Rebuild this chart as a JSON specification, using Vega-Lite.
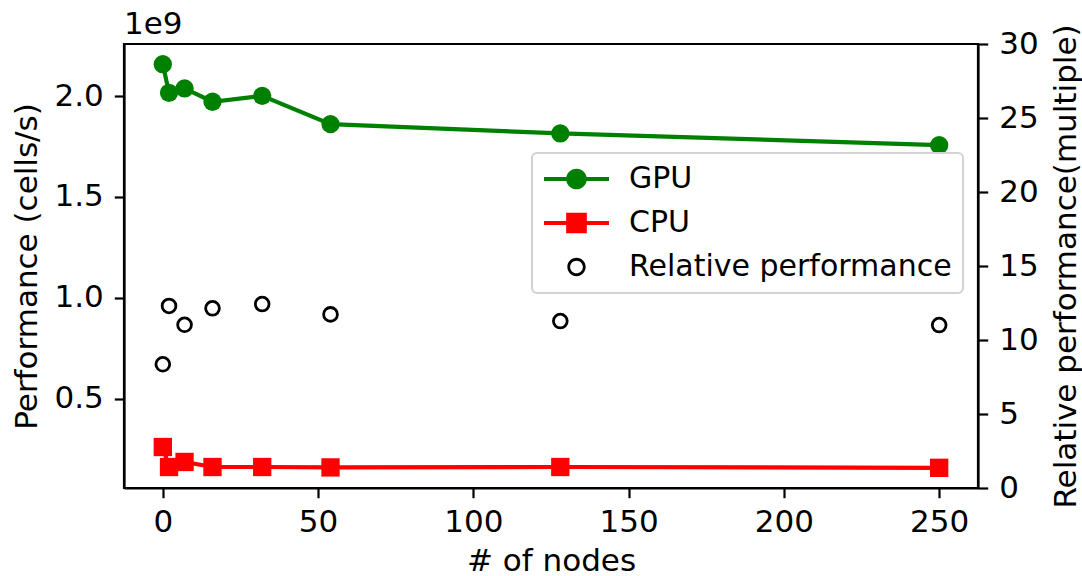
{
  "$schema": "https://vega.github.io/schema/vega-lite/v6.json",
  "width": 854,
  "height": 444,
  "autosize": "none",
  "padding": {"left": 124, "top": 44, "right": 104, "bottom": 88},
  "background": "white",
  "title": {"text": "1e9", "anchor": "start", "frame": "group", "orient": "top", "offset": -41, "baseline": "alphabetic", "font": "DejaVu Sans", "fontSize": 31, "fontWeight": "normal", "color": "black"},
  "data": {
    "values": [
      {"nodes": 0, "series": "GPU", "value": 2158000000},
      {"nodes": 2, "series": "GPU", "value": 2016000000},
      {"nodes": 7, "series": "GPU", "value": 2038000000},
      {"nodes": 16, "series": "GPU", "value": 1972000000},
      {"nodes": 32, "series": "GPU", "value": 2001000000},
      {"nodes": 54, "series": "GPU", "value": 1861000000},
      {"nodes": 128, "series": "GPU", "value": 1815000000},
      {"nodes": 250, "series": "GPU", "value": 1757000000},
      {"nodes": 0, "series": "CPU", "value": 261000000},
      {"nodes": 2, "series": "CPU", "value": 162000000},
      {"nodes": 7, "series": "CPU", "value": 187000000},
      {"nodes": 16, "series": "CPU", "value": 162000000},
      {"nodes": 32, "series": "CPU", "value": 162000000},
      {"nodes": 54, "series": "CPU", "value": 160000000},
      {"nodes": 128, "series": "CPU", "value": 162000000},
      {"nodes": 250, "series": "CPU", "value": 158000000},
      {"nodes": 0, "series": "Relative performance", "value": 8.36},
      {"nodes": 2, "series": "Relative performance", "value": 12.3},
      {"nodes": 7, "series": "Relative performance", "value": 11.03},
      {"nodes": 16, "series": "Relative performance", "value": 12.14},
      {"nodes": 32, "series": "Relative performance", "value": 12.43},
      {"nodes": 54, "series": "Relative performance", "value": 11.73},
      {"nodes": 128, "series": "Relative performance", "value": 11.28},
      {"nodes": 250, "series": "Relative performance", "value": 11.01}
    ]
  },
  "layer": [
    {
      "transform": [{"filter": "datum.series !== 'Relative performance'"}],
      "encoding": {
        "x": {"field": "nodes", "type": "quantitative", "scale": {"domain": [-12.5, 262.5], "nice": false, "zero": false},
              "axis": {"title": "# of nodes", "values": [0, 50, 100, 150, 200, 250], "titlePadding": 9}},
        "y": {"field": "value", "type": "quantitative", "scale": {"domain": [58000000, 2258000000], "nice": false, "zero": false},
              "axis": {"title": "Performance (cells/s)", "orient": "left", "values": [500000000, 1000000000, 1500000000, 2000000000], "labelExpr": "format(datum.value / 1e9, '.1f')", "titlePadding": 10}},
        "color": {"field": "series", "type": "nominal",
                  "scale": {"domain": ["GPU", "CPU", "Relative performance"], "range": ["#008000", "#ff0000", "#000000"]},
                  "legend": {
                    "title": null,
                    "orient": "none",
                    "legendX": 408,
                    "legendY": 109,
                    "padding": 11,
                    "fillColor": "rgba(255,255,255,0.8)",
                    "strokeColor": "#d2d2d2",
                    "cornerRadius": 5,
                    "labelFont": "DejaVu Sans",
                    "labelFontSize": 30,
                    "labelColor": "black",
                    "labelLimit": 500,
                    "labelOffset": 37.5,
                    "symbolOffset": 18.5,
                    "rowPadding": 14,
                    "symbolSize": 784,
                    "encode": {
                      "symbols": {
                        "update": {
                          "shape": {"signal": "datum.value === 'GPU' ? 'M-2.321,-0.15H2.321V0.15H-2.321Z M0.739,0A0.739,0.739 0 1,1 -0.739,0A0.739,0.739 0 1,1 0.739,0Z' : datum.value === 'CPU' ? 'M-2.321,-0.15H2.321V0.15H-2.321Z M-0.739,-0.739H0.739V0.739H-0.739Z' : 'M0.654,0A0.654,0.654 0 1,1 -0.654,0A0.654,0.654 0 1,1 0.654,0Z M0.454,0A0.454,0.454 0 1,0 -0.454,0A0.454,0.454 0 1,0 0.454,0Z'"},
                          "strokeWidth": {"value": 0},
                          "opacity": {"value": 1},
                          "fillOpacity": {"value": 1},
                          "size": {"value": 784}
                        }
                      }
                    }
                  }}
      },
      "layer": [
        {"mark": {"type": "line", "strokeWidth": 4.2}},
        {"mark": {"type": "point", "filled": true, "opacity": 1, "size": 336},
         "encoding": {"shape": {"field": "series", "type": "nominal", "scale": {"domain": ["GPU", "CPU"], "range": ["circle", "square"]}, "legend": null}}}
      ]
    },
    {
      "transform": [{"filter": "datum.series === 'Relative performance'"}],
      "mark": {"type": "point", "filled": false, "opacity": 1, "size": 189, "strokeWidth": 2.8, "shape": "circle"},
      "encoding": {
        "x": {"field": "nodes", "type": "quantitative"},
        "y": {"field": "value", "type": "quantitative", "scale": {"domain": [0, 30], "nice": false},
              "axis": {"title": "Relative performance(multiple)", "orient": "right", "values": [0, 5, 10, 15, 20, 25, 30], "titleAngle": 270, "titleBaseline": "top", "titlePadding": 13}},
        "color": {"field": "series", "type": "nominal"}
      }
    }
  ],
  "resolve": {"scale": {"y": "independent", "shape": "independent"}},
  "config": {
    "font": "DejaVu Sans",
    "view": {"stroke": "black", "strokeWidth": 2.2},
    "axis": {
      "grid": false,
      "domainColor": "black",
      "domainWidth": 2.2,
      "tickColor": "black",
      "tickWidth": 2.2,
      "tickSize": 9.7,
      "labelFont": "DejaVu Sans",
      "labelFontSize": 31,
      "labelColor": "black",
      "labelPadding": 11,
      "titleFont": "DejaVu Sans",
      "titleFontSize": 31,
      "titleFontWeight": "normal",
      "titleColor": "black"
    },
    "axisX": {"labelPadding": 10},
    "legend": {"strokeWidth": 2}
  }
}
